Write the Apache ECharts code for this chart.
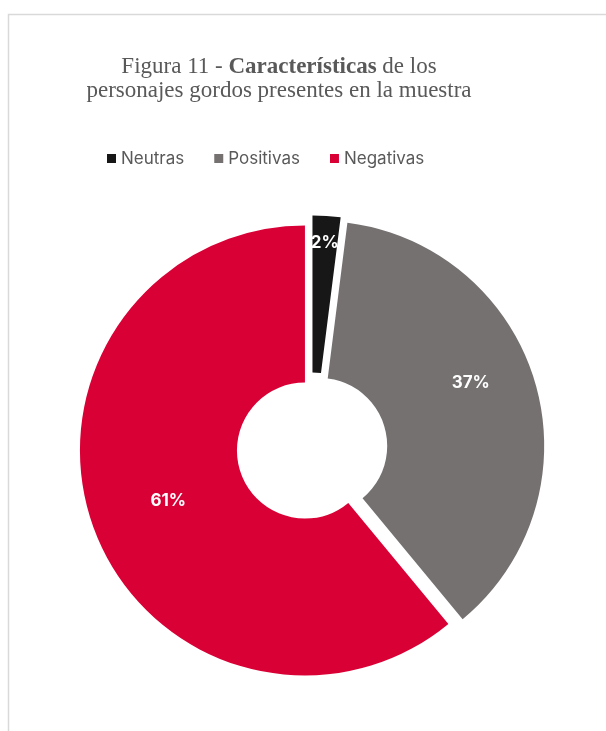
<!DOCTYPE html>
<html>
<head>
<meta charset="utf-8">
<script src="https://cdn.jsdelivr.net/npm/echarts@6/dist/echarts.min.js"></script>
<style>
  html, body { margin: 0; padding: 0; background: #ffffff; }
  #chart { width: 606px; height: 731px; }
</style>
</head>
<body>
<div id="chart"></div>
<script>
// Categories and shares (percent)
const categories = ['Neutras', 'Positivas', 'Negativas'];
const shares = [2, 37, 61];
const colors = ['#171717', '#767171', '#D90036'];
// small nudges for the in-slice labels (px)
const labelNudge = [[3, -48], [8, -21], [4, 0]];

const chart = echarts.init(document.getElementById('chart'), null, { renderer: 'canvas' });

const pieData = categories.map((name, i) => ({
  name: name,
  value: shares[i],
  selected: true,
  itemStyle: { color: colors[i] }
}));

chart.setOption({
  backgroundColor: '#ffffff',
  animation: false,
  graphic: [{
    type: 'rect',
    shape: { x: 8.5, y: 14.5, width: 700, height: 800 },
    style: { fill: 'none', stroke: '#d9d9d9', lineWidth: 1.5 },
    silent: true
  }],
  title: {
    text: 'Figura 11 - {b|Características} de los\npersonajes gordos presentes en la muestra',
    left: 274,
    top: 50,
    textAlign: 'center',
    textStyle: {
      fontFamily: 'Liberation Serif',
      fontSize: 23,
      fontWeight: 'normal',
      color: '#595959',
      lineHeight: 24,
      rich: {
        b: {
          fontFamily: 'Liberation Serif',
          fontSize: 23,
          fontWeight: 'bold',
          color: '#595959',
          lineHeight: 24
        }
      }
    }
  },
  legend: {
    data: categories,
    left: 102,
    top: 145,
    icon: 'rect',
    itemWidth: 9,
    itemHeight: 9,
    itemGap: 30,
    selectedMode: false,
    textStyle: {
      fontFamily: 'Inter',
      fontSize: 17,
      color: '#595959'
    }
  },
  series: [{
    type: 'pie',
    center: [312, 448],
    radius: [68, 225],
    startAngle: 90,
    clockwise: true,
    selectedMode: 'multiple',
    selectedOffset: 7.5,
    avoidLabelOverlap: false,
    itemStyle: { borderWidth: 0 },
    select: { itemStyle: { borderWidth: 0, borderColor: 'transparent' } },
    emphasis: { disabled: true },
    label: {
      show: true,
      position: 'inside',
      formatter: '{c}%',
      color: '#ffffff',
      fontFamily: 'Inter',
      fontWeight: 'bold',
      fontSize: 17
    },
    labelLine: { show: false },
    labelLayout: function (params) {
      const n = labelNudge[params.dataIndex] || [0, 0];
      return { dx: n[0], dy: n[1] };
    },
    data: pieData
  }]
});
</script>
</body>
</html>
